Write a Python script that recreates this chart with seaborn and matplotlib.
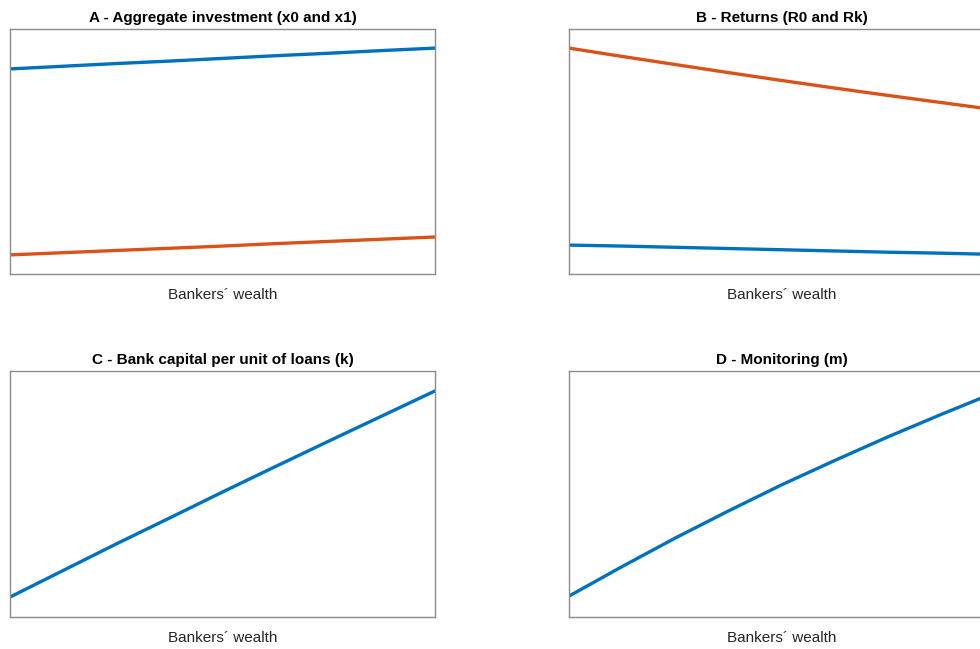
import matplotlib
matplotlib.use("Agg")
import matplotlib.pyplot as plt
import seaborn as sns
import pandas as pd

# ---- data (normalized units) ----
wealth = [0.0, 0.125, 0.25, 0.375, 0.5, 0.625, 0.75, 0.875, 1.0]
x0_invest = [0.837, 0.848, 0.859, 0.869, 0.880, 0.891, 0.901, 0.912, 0.922]
x1_invest = [0.078, 0.087, 0.096, 0.105, 0.114, 0.124, 0.133, 0.142, 0.151]
R0_return = [0.118, 0.114, 0.109, 0.104, 0.099, 0.094, 0.089, 0.085, 0.080]
Rk_return = [0.922, 0.888, 0.855, 0.822, 0.790, 0.759, 0.729, 0.700, 0.671]
k_capital = [0.081, 0.189, 0.297, 0.402, 0.508, 0.612, 0.715, 0.817, 0.919]
m_monitor = [0.085, 0.205, 0.321, 0.431, 0.537, 0.636, 0.732, 0.823, 0.911]

titles = ["A - Aggregate investment (x0 and x1)", "B - Returns (R0 and Rk)",
          "C - Bank capital per unit of loans (k)", "D - Monitoring (m)"]
xlabel = "Bankers\u00b4 wealth"

BLUE = "#0072BD"
ORANGE = "#D95319"

sns.set_style("white")
plt.rcParams['font.family'] = ['Liberation Sans Narrow', 'Liberation Sans', 'DejaVu Sans']

fig = plt.figure(figsize=(9.8, 6.49), dpi=100)
W, H = 980, 649

def make_ax(x0, y_top, w, h):
    return fig.add_axes([x0 / W, 1 - (y_top + h) / H, w / W, h / H])

axes = [make_ax(10, 29, 425, 245), make_ax(569, 29, 425, 245),
        make_ax(10, 371, 425, 246), make_ax(569, 371, 425, 246)]

panels = [
    [(x0_invest, BLUE), (x1_invest, ORANGE)],
    [(R0_return, BLUE), (Rk_return, ORANGE)],
    [(k_capital, BLUE)],
    [(m_monitor, BLUE)],
]

for ax, title, series in zip(axes, titles, panels):
    for vals, col in series:
        df = pd.DataFrame({"w": wealth, "v": vals})
        sns.lineplot(data=df, x="w", y="v", ax=ax, color=col, linewidth=2.4)
    ax.set_xlim(0, 1)
    ax.set_ylim(0, 1)
    ax.set_xticks([])
    ax.set_yticks([])
    ax.set_ylabel("")
    ax.set_xlabel(xlabel, fontsize=11, color="#262626", labelpad=10)
    ax.set_title(title, fontsize=11, fontweight="bold", color="black", pad=5)
    for s in ax.spines.values():
        s.set_visible(True)
        s.set_color("#8c8c8c")
        s.set_linewidth(1.0)

fig.savefig("out.png", dpi=100)
